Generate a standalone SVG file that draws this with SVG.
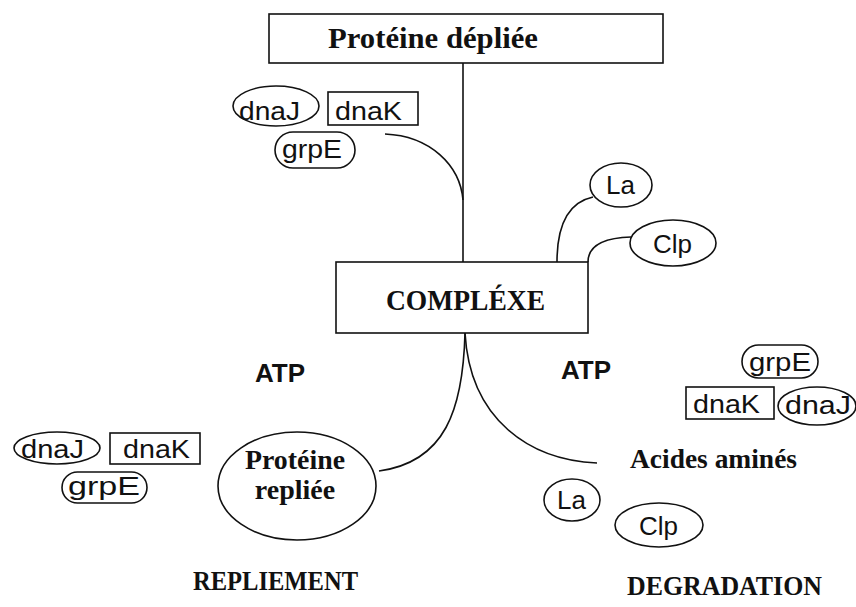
<svg xmlns="http://www.w3.org/2000/svg" width="856" height="607" viewBox="0 0 856 607">
<style>
.s{fill:none;stroke:#111;stroke-width:1.6}
.w{fill:#fff;stroke:#111;stroke-width:1.6}
.tb{font-family:"Liberation Serif","Times New Roman",serif;font-weight:bold;fill:#111}
.ts{font-family:"Liberation Sans",Arial,sans-serif;fill:#111}
.ta{font-family:"Liberation Sans",Arial,sans-serif;font-weight:bold;fill:#111}
</style>
<rect width="856" height="607" fill="#fff"/>
<g id="connectors">
<path class="s" d="M463,63 V262"/>
<path class="s" d="M385,134 C430,136 460,165 463,200"/>
<path class="s" d="M593,197 C565,203 557,230 557,262"/>
<path class="s" d="M631,237 C600,238 588,248 588,262"/>
<path class="s" d="M465,333 C463,410 445,462 379,471"/>
<path class="s" d="M465,333 C470,420 530,460 597,463"/>
</g>
<g id="proteine-depliee">
<rect class="w" x="269" y="14" width="394" height="49"/>
<text class="tb" x="328" y="48" font-size="29" textLength="210" lengthAdjust="spacingAndGlyphs">Protéine dépliée</text>
</g>
<g id="complexe">
<rect class="w" x="336" y="262" width="252" height="71"/>
<text class="tb" x="386" y="310" font-size="29" textLength="159" lengthAdjust="spacingAndGlyphs">COMPLÉXE</text>
</g>
<g id="chap-top">
<ellipse class="w" cx="276" cy="106" rx="43" ry="20"/>
<text class="ts" x="239" y="120" font-size="26" textLength="61" lengthAdjust="spacingAndGlyphs">dnaJ</text>
<rect class="w" x="328" y="92" width="90" height="33"/>
<text class="ts" x="335" y="120" font-size="26" textLength="67" lengthAdjust="spacingAndGlyphs">dnaK</text>
<rect class="w" x="275" y="132" width="80" height="36" rx="18"/>
<text class="ts" x="282" y="158" font-size="26" textLength="60" lengthAdjust="spacingAndGlyphs">grpE</text>
</g>
<g id="la-top">
<ellipse class="w" cx="621" cy="185" rx="31" ry="22"/>
<text class="ts" x="606" y="194" font-size="26">La</text>
</g>
<g id="clp-top">
<ellipse class="w" cx="673" cy="243" rx="43" ry="23"/>
<text class="ts" x="653" y="253" font-size="26">Clp</text>
</g>
<g id="atp-left"><text class="ta" x="255" y="382" font-size="26">ATP</text></g>
<g id="atp-right"><text class="ta" x="561" y="379" font-size="26">ATP</text></g>
<g id="chap-right">
<rect class="w" x="742" y="345" width="76" height="33" rx="16.5"/>
<text class="ts" x="749" y="371" font-size="26" textLength="62" lengthAdjust="spacingAndGlyphs">grpE</text>
<rect class="w" x="686" y="387" width="88" height="32"/>
<text class="ts" x="693" y="413" font-size="26" textLength="67" lengthAdjust="spacingAndGlyphs">dnaK</text>
<ellipse class="w" cx="817" cy="406" rx="39" ry="19"/>
<text class="ts" x="785" y="414" font-size="26" textLength="66" lengthAdjust="spacingAndGlyphs">dnaJ</text>
</g>
<g id="chap-left">
<ellipse class="w" cx="57" cy="448" rx="43" ry="16"/>
<text class="ts" x="21" y="458" font-size="25" textLength="63" lengthAdjust="spacingAndGlyphs">dnaJ</text>
<rect class="w" x="110" y="433" width="90" height="31"/>
<text class="ts" x="123" y="458" font-size="25" textLength="67" lengthAdjust="spacingAndGlyphs">dnaK</text>
<rect class="w" x="62" y="472" width="85" height="31" rx="15.5"/>
<text class="ts" x="68" y="495" font-size="25" textLength="72" lengthAdjust="spacingAndGlyphs">grpE</text>
</g>
<g id="proteine-repliee">
<ellipse class="w" cx="297" cy="486" rx="79" ry="54"/>
<text class="tb" x="295" y="469" font-size="28" text-anchor="middle" textLength="100" lengthAdjust="spacingAndGlyphs">Protéine</text>
<text class="tb" x="295" y="499" font-size="28" text-anchor="middle">repliée</text>
</g>
<g id="acides-amines">
<text class="tb" x="630" y="468" font-size="28" textLength="167" lengthAdjust="spacingAndGlyphs">Acides aminés</text>
</g>
<g id="la-bottom">
<ellipse class="w" cx="572" cy="500" rx="28" ry="21"/>
<text class="ts" x="557" y="509" font-size="26">La</text>
</g>
<g id="clp-bottom">
<ellipse class="w" cx="659" cy="525" rx="44" ry="22"/>
<text class="ts" x="639" y="535" font-size="26">Clp</text>
</g>
<g id="repliement"><text class="tb" x="193" y="590" font-size="28" textLength="165" lengthAdjust="spacingAndGlyphs">REPLIEMENT</text></g>
<g id="degradation"><text class="tb" x="627" y="595" font-size="28" textLength="195" lengthAdjust="spacingAndGlyphs">DEGRADATION</text></g>
</svg>
